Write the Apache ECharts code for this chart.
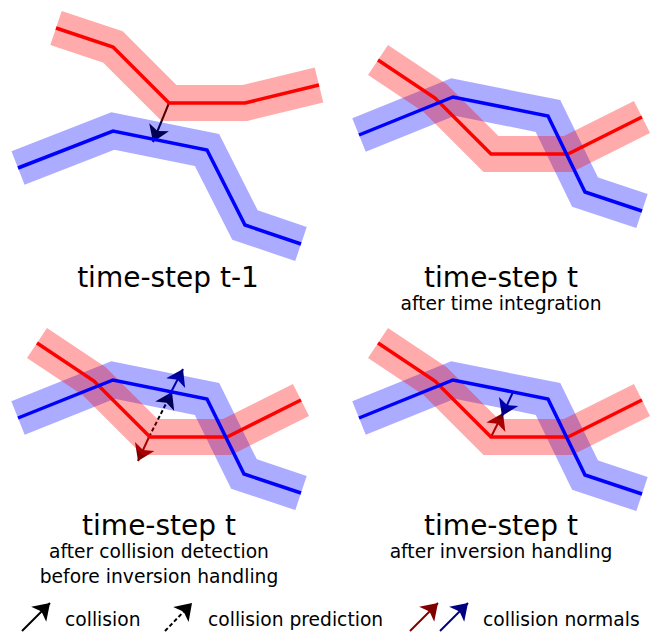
<!DOCTYPE html>
<html>
<head>
<meta charset="utf-8">
<script src="https://cdn.jsdelivr.net/npm/echarts@6/dist/echarts.min.js"></script>
<style>
html,body{margin:0;padding:0;background:#fff;}
#chart{width:656px;height:635px;}
</style>
</head>
<body>
<div id="chart"></div>
<script>
// Polylines (pixel-space data, y downward)
const p1Red  = [[56,28],[113,47],[169,103],[245,103],[319,85]];
const p1Blue = [[18,168],[113,131],[207,150],[245,225],[301,244]];
const p2Red  = [[378,60],[435,98],[491,154],[568,154],[642,117]];
const p2Blue = [[359,135],[453,97],[548,116],[585,192],[642,211]];
const p3Red  = [[37,343],[94,381],[150,437],[227,437],[301,400]];
const p3Blue = [[18,418],[113,380],[207,399],[244,474],[301,493]];
const p4Red  = [[378,343],[435,381],[491,437],[568,437],[642,400]];
const p4Blue = [[359,418],[453,380],[548,399],[585,475],[642,494]];

// Arrows: [start, end]
const collisionArrows  = [[[169,103],[153,142]], [[22,631],[50,603]]];
const predictionArrows = [[[149,437],[172,392]], [[165,631],[192,603]]];
const redNormals       = [[[149,437],[138,461]], [[491,437],[503,413]], [[410,631],[438,603]]];
const blueNormals      = [[[168,398],[183,369]], [[513,392],[502,416]], [[440,631],[468,603]]];

// Text
const titles    = ['time-step t-1', 'time-step t', 'time-step t', 'time-step t'];
const subtitles = [[], ['after time integration'], ['after collision detection', 'before inversion handling'], ['after inversion handling']];
const legendLabels = ['collision', 'collision prediction', 'collision normals'];

const RED_BAND = 'rgba(255,0,0,0.33)';
const BLUE_BAND = 'rgba(0,0,255,0.33)';

function band(data, color) {
  return {type:'line', data, showSymbol:false, symbol:'none', silent:true, clip:false, animation:false,
    lineStyle:{width:36, color, cap:'butt', join:'miter', miterLimit:10}};
}
function thin(data, color) {
  return {type:'line', data, showSymbol:false, symbol:'none', silent:true, clip:false, animation:false,
    lineStyle:{width:3.5, color, cap:'butt', join:'miter', miterLimit:10}};
}
function arrows(list, color, dashed) {
  return {type:'lines', coordinateSystem:'cartesian2d', silent:true, animation:false, polyline:false,
    symbol:['none','arrow'], symbolSize:[10,16],
    itemStyle:{color},
    lineStyle:{color, width:2, opacity:1, type: dashed ? [4,2.5] : 'solid', curveness:0},
    data: list.map(c => ({coords:c}))};
}

const panels = [[p1Red,p1Blue],[p2Red,p2Blue],[p3Red,p3Blue],[p4Red,p4Blue]];
const series = [];
panels.forEach(([r,b]) => { series.push(band(b, BLUE_BAND)); series.push(band(r, RED_BAND)); });
panels.forEach(([r,b]) => { series.push(thin(r, '#ff0000')); series.push(thin(b, '#0000ff')); });
series.push(arrows(collisionArrows, '#000000', false));
series.push(arrows(predictionArrows, '#000000', true));
series.push(arrows(redNormals, '#800000', false));
series.push(arrows(blueNormals, '#000080', false));

const FONT = 'DejaVu Sans';
function txt(x, y, text, size, align) {
  return {type:'text', x, y, silent:true, style:{text, fontSize:size, fontFamily:FONT, fill:'#000',
    align: align||'center', textAlign: align||'center', verticalAlign:'middle', textVerticalAlign:'middle'}};
}
const titlePos = [[168,277],[501,277],[159,525],[501,525]];
const graphic = [];
titles.forEach((t,i) => {
  const [x,y] = titlePos[i];
  graphic.push(txt(x, y, t, 28));
  subtitles[i].forEach((s,j) => graphic.push(txt(x, y + 26 + j*25, s, 18.7)));
});
const legendX = [65, 208, 483];
legendLabels.forEach((l,i) => graphic.push(txt(legendX[i], 619, l, 18.7, 'left')));

const chart = echarts.init(document.getElementById('chart'), null, {renderer:'svg'});
chart.setOption({
  animation:false,
  backgroundColor:'#ffffff',
  grid:{left:0, right:0, top:0, bottom:0, containLabel:false},
  xAxis:{type:'value', min:0, max:656, show:false},
  yAxis:{type:'value', min:0, max:635, inverse:true, show:false},
  series,
  graphic
});
</script>
</body>
</html>
